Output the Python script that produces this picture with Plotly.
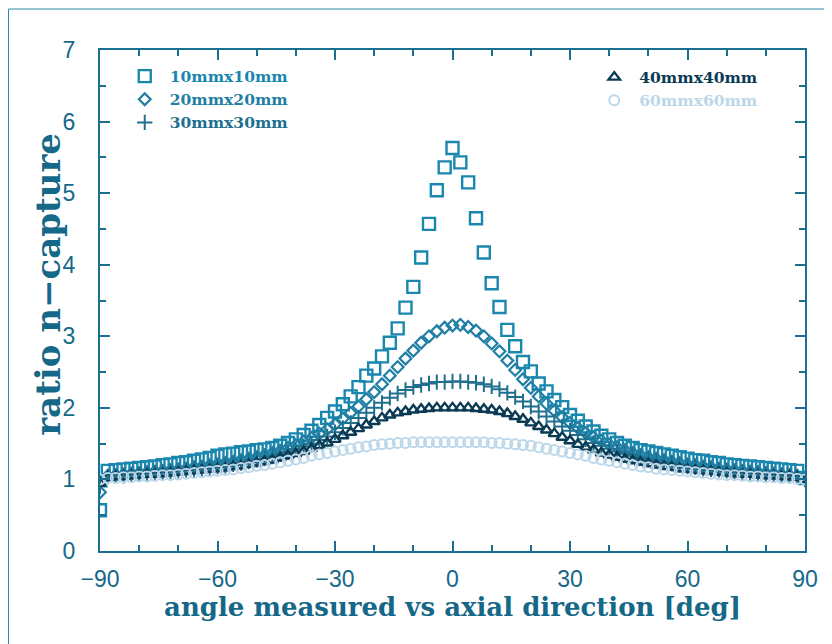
import plotly.graph_objects as go

ANGLES = list(range(-90, 91, 2))

R10 = [0.57, 1.12, 1.13, 1.14, 1.15, 1.16, 1.17, 1.18, 1.20, 1.21, 1.23, 1.24, 1.26, 1.28, 1.30,
       1.33, 1.35, 1.36, 1.38, 1.39, 1.41, 1.42, 1.44, 1.47, 1.51, 1.56, 1.62, 1.68, 1.76, 1.86,
       1.95, 2.05, 2.16, 2.29, 2.45, 2.55, 2.72, 2.91, 3.11, 3.40, 3.69, 4.10, 4.57, 5.04, 5.36,
       5.63,
       5.43, 5.15, 4.65, 4.17, 3.74, 3.41, 3.09, 2.86, 2.64, 2.51, 2.34, 2.23, 2.11, 2.01, 1.90,
       1.82, 1.74, 1.67, 1.61, 1.56, 1.51, 1.47, 1.44, 1.41, 1.39, 1.37, 1.35, 1.33, 1.31, 1.29,
       1.27, 1.26, 1.24, 1.23, 1.21, 1.20, 1.19, 1.18, 1.17, 1.16, 1.15, 1.14, 1.13, 1.12, 1.02]

R20 = [0.82, 1.05, 1.06, 1.07, 1.08, 1.09, 1.10, 1.11, 1.12, 1.13, 1.14, 1.15, 1.17, 1.18, 1.20,
       1.21, 1.23, 1.25, 1.27, 1.29, 1.31, 1.34, 1.37, 1.40, 1.44, 1.48, 1.53, 1.58, 1.64, 1.70,
       1.77, 1.85, 1.93, 2.02, 2.12, 2.22, 2.33, 2.45, 2.57, 2.69, 2.80, 2.91, 3.00, 3.07, 3.12,
       3.15,
       3.16, 3.13, 3.08, 3.00, 2.90, 2.79, 2.66, 2.53, 2.40, 2.28, 2.16, 2.06, 1.96, 1.87, 1.79,
       1.72, 1.65, 1.59, 1.54, 1.49, 1.45, 1.41, 1.37, 1.34, 1.31, 1.29, 1.27, 1.25, 1.23, 1.21,
       1.20, 1.18, 1.17, 1.15, 1.14, 1.13, 1.12, 1.11, 1.10, 1.09, 1.08, 1.07, 1.06, 1.05, 1.00]

R30 = [0.90, 1.04, 1.05, 1.05, 1.06, 1.07, 1.08, 1.09, 1.10, 1.11, 1.12, 1.13, 1.14, 1.15, 1.16,
       1.18, 1.19, 1.21, 1.23, 1.25, 1.27, 1.29, 1.32, 1.35, 1.38, 1.42, 1.46, 1.50, 1.55, 1.60,
       1.66, 1.72, 1.79, 1.86, 1.93, 2.00, 2.07, 2.14, 2.20, 2.25, 2.29, 2.32, 2.34, 2.36, 2.36,
       2.37,
       2.37, 2.36, 2.35, 2.33, 2.30, 2.26, 2.21, 2.15, 2.09, 2.02, 1.95, 1.88, 1.81, 1.74, 1.68,
       1.62, 1.56, 1.51, 1.47, 1.43, 1.39, 1.36, 1.33, 1.30, 1.28, 1.26, 1.24, 1.22, 1.20, 1.18,
       1.17, 1.15, 1.14, 1.13, 1.12, 1.11, 1.10, 1.09, 1.08, 1.07, 1.06, 1.06, 1.05, 1.04, 1.00]

R40 = [0.95, 1.03, 1.04, 1.04, 1.05, 1.06, 1.07, 1.07, 1.08, 1.09, 1.10, 1.11, 1.12, 1.13, 1.14,
       1.15, 1.16, 1.18, 1.19, 1.21, 1.23, 1.25, 1.27, 1.30, 1.33, 1.36, 1.39, 1.43, 1.47, 1.51,
       1.56, 1.61, 1.66, 1.71, 1.76, 1.81, 1.86, 1.90, 1.93, 1.95, 1.97, 1.98, 1.99, 2.00, 2.00,
       2.00,
       2.00, 2.00, 1.99, 1.98, 1.97, 1.95, 1.92, 1.88, 1.84, 1.79, 1.74, 1.69, 1.64, 1.59, 1.54,
       1.49, 1.45, 1.41, 1.37, 1.34, 1.31, 1.28, 1.26, 1.24, 1.22, 1.20, 1.18, 1.17, 1.15, 1.14,
       1.13, 1.12, 1.11, 1.10, 1.09, 1.08, 1.07, 1.07, 1.06, 1.05, 1.05, 1.04, 1.04, 1.03, 1.00]

R60 = [1.00, 1.02, 1.02, 1.03, 1.03, 1.04, 1.04, 1.05, 1.06, 1.06, 1.07, 1.08, 1.09, 1.10, 1.11,
       1.12, 1.13, 1.14, 1.16, 1.17, 1.19, 1.20, 1.22, 1.24, 1.26, 1.28, 1.30, 1.33, 1.35, 1.37,
       1.39, 1.41, 1.43, 1.45, 1.46, 1.48, 1.49, 1.50, 1.51, 1.51, 1.52, 1.52, 1.52, 1.52, 1.52,
       1.52,
       1.52, 1.52, 1.52, 1.52, 1.51, 1.51, 1.50, 1.49, 1.48, 1.47, 1.45, 1.43, 1.41, 1.39, 1.37,
       1.35, 1.33, 1.30, 1.28, 1.26, 1.24, 1.22, 1.20, 1.18, 1.17, 1.15, 1.14, 1.13, 1.12, 1.11,
       1.10, 1.09, 1.08, 1.07, 1.06, 1.06, 1.05, 1.04, 1.04, 1.03, 1.03, 1.02, 1.02, 1.01, 1.00]

NAMES = ["10mmx10mm", "20mmx20mm", "30mmx30mm", "40mmx40mm", "60mmx60mm"]
X_TICKS = [-90, -60, -30, 0, 30, 60, 90]
Y_TITLE = "ratio n\u2212capture"
X_TITLE = "angle measured vs axial direction [deg]"

AXIS_COLOR = "#1b7091"
TEXT_COLOR = "#156888"

series = [
    (NAMES[0], R10, "square-open", 12, 2.4, "#1a87ae", "legend"),
    (NAMES[1], R20, "diamond-open", 9, 2.2, "#1f7fa4", "legend"),
    (NAMES[2], R30, "cross-thin-open", 11, 2.0, "#216f8e", "legend"),
    (NAMES[3], R40, "triangle-up-open", 10, 2.4, "#0b3a55", "legend2"),
    (NAMES[4], R60, "circle-open", 10, 2.0, "#bcd7e9", "legend2"),
]

fig = go.Figure()
for name, vals, sym, size, lw, col, leg in series:
    fig.add_trace(go.Scatter(
        x=ANGLES, y=vals, mode="markers",
        name=f"<span style='color:{col}'>{name}</span>",
        legend=leg,
        marker=dict(symbol=sym, size=size, color=col, line=dict(color=col, width=lw)),
    ))

serif = "DejaVu Serif"
legfont = dict(family=serif, size=15.5, color=TEXT_COLOR, weight="bold")

fig.update_layout(
    width=832, height=644,
    margin=dict(l=92, r=35, t=42, b=101),
    paper_bgcolor="white", plot_bgcolor="white",
    legend=dict(x=0.028, y=0.981, xanchor="left", yanchor="top",
                bgcolor="rgba(0,0,0,0)", font=legfont, itemwidth=40, tracegroupgap=0),
    legend2=dict(x=0.694, y=0.979, xanchor="left", yanchor="top",
                 bgcolor="rgba(0,0,0,0)", font=legfont, itemwidth=40, tracegroupgap=0),
    shapes=[dict(type="rect", xref="paper", yref="paper",
                 x0=-0.1298, x1=1.0298, y0=-0.194, y1=1.0818,
                 line=dict(color="#2b8aa9", width=1), layer="below")],
    annotations=[dict(text=Y_TITLE, xref="paper", yref="paper", x=-0.074, y=0.533,
                      xanchor="center", yanchor="middle", textangle=-90, showarrow=False,
                      font=dict(family=serif, size=34, color=TEXT_COLOR, weight="bold"))],
)

fig.update_xaxes(
    range=[-90, 90], tickvals=X_TICKS, ticks="inside", ticklen=10, tickwidth=2,
    tickcolor=AXIS_COLOR, showline=True, linecolor=AXIS_COLOR, linewidth=2, mirror="ticks",
    showgrid=False, zeroline=False, automargin=False,
    minor=dict(dtick=10, ticks="inside", ticklen=6, tickwidth=2, tickcolor=AXIS_COLOR, showgrid=False),
    tickfont=dict(family="Liberation Sans", size=23, color=TEXT_COLOR),
    ticklabelstandoff=6,
    title=dict(text=X_TITLE,
               font=dict(family=serif, size=26, color=TEXT_COLOR, weight="bold"), standoff=3),
)
fig.update_yaxes(
    range=[0, 7], dtick=1, ticks="inside", ticklen=10, tickwidth=2,
    tickcolor=AXIS_COLOR, showline=True, linecolor=AXIS_COLOR, linewidth=2, mirror="ticks",
    showgrid=False, zeroline=False, automargin=False,
    minor=dict(dtick=0.5, ticks="inside", ticklen=6, tickwidth=2, tickcolor=AXIS_COLOR, showgrid=False),
    tickfont=dict(family="Liberation Sans", size=23, color=TEXT_COLOR),
    ticklabelstandoff=18,
)

fig.write_html("out.html")
